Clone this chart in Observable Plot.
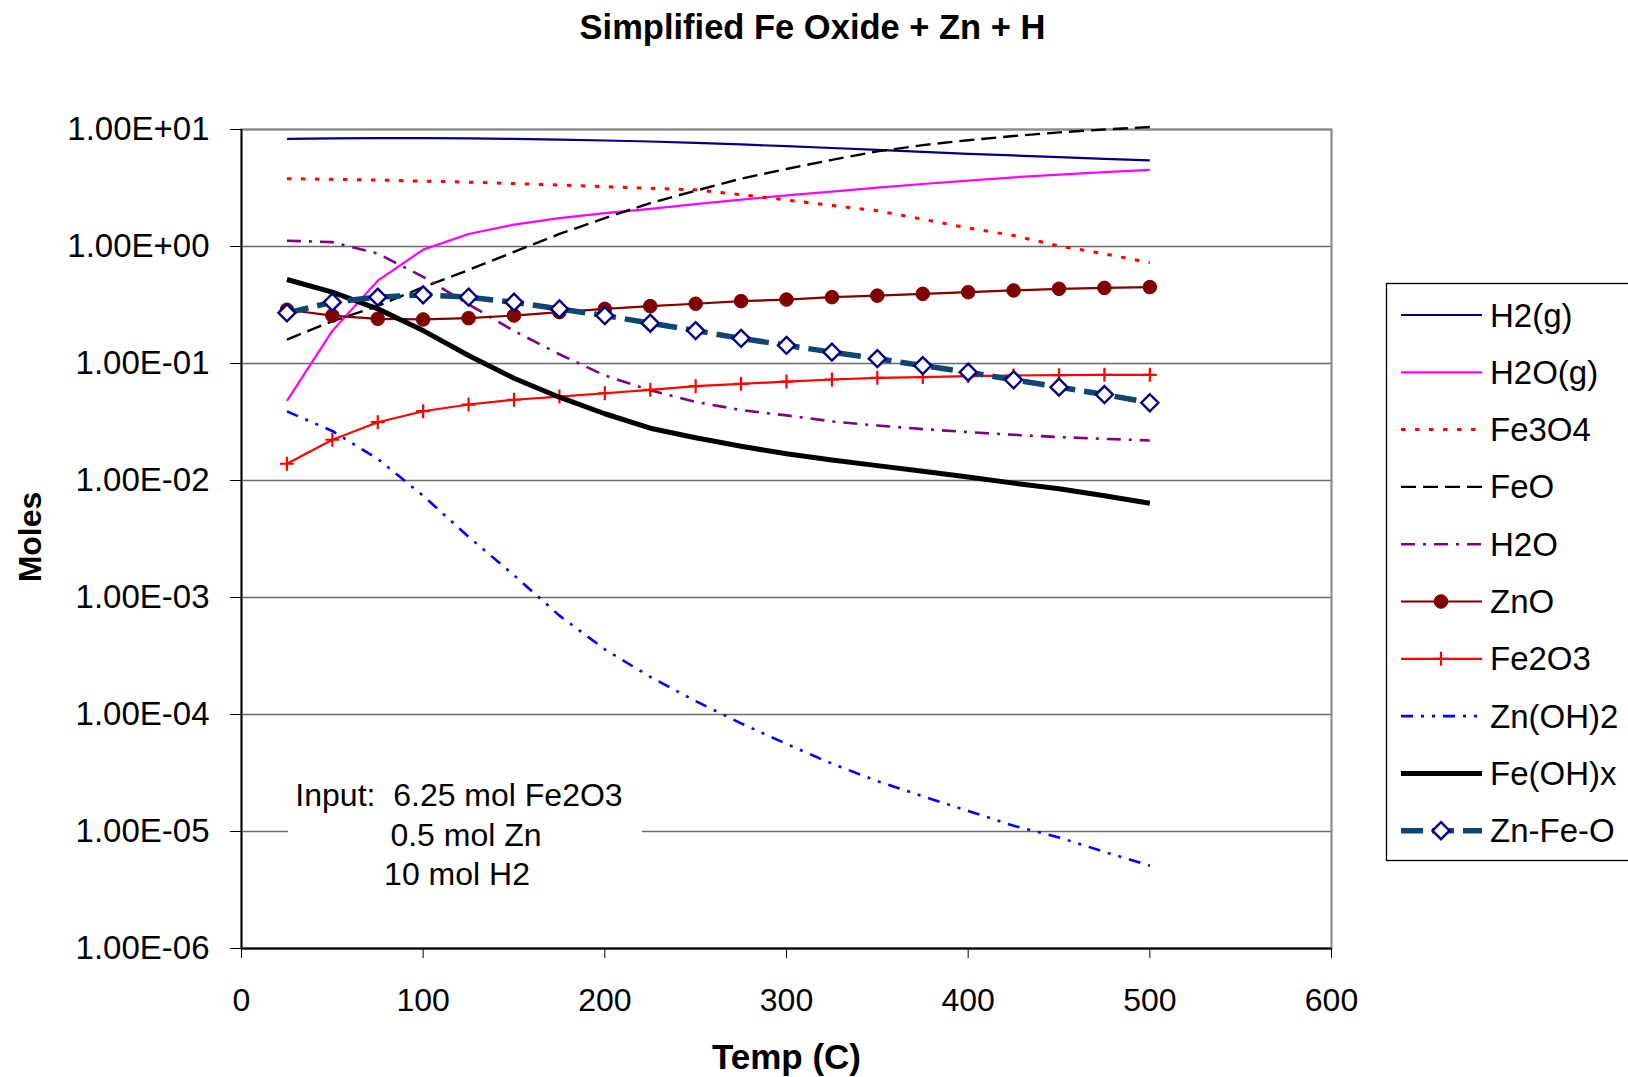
<!DOCTYPE html>
<html>
<head>
<meta charset="utf-8">
<script src="https://cdn.jsdelivr.net/npm/d3@7"></script>
<script src="https://cdn.jsdelivr.net/npm/@observablehq/plot@0.6"></script>
<style>
html, body { margin: 0; padding: 0; background: #fff; }
#wrap { position: relative; width: 1628px; height: 1077px; overflow: hidden; background: #fff;
  font-family: "Liberation Sans", Arial, sans-serif; }
#wrap > svg { position: absolute; left: 0; top: 0; }
#note { position: absolute; left: 288px; top: 776px; width: 354px; height: 122px; background: #fff;
  font-size: 32px; line-height: 39.5px; text-align: center; white-space: pre; color: #000; }
#note div { position: relative; }
</style>
</head>
<body>
<div id="wrap"></div>
<script>
// ---- data ----
const temps = [25, 50, 75, 100, 125, 150, 175, 200, 225, 250, 275, 300, 325, 350, 375, 400, 425, 450, 475, 500];
const h2g    = [8.3, 8.4, 8.45, 8.45, 8.4, 8.3, 8.2, 8.05, 7.9, 7.7, 7.45, 7.2, 6.95, 6.7, 6.45, 6.2, 6.0, 5.8, 5.6, 5.45];
const h2ogas = [0.048, 0.19, 0.51, 0.94, 1.28, 1.54, 1.75, 1.93, 2.1, 2.3, 2.52, 2.73, 2.95, 3.18, 3.42, 3.66, 3.9, 4.12, 4.33, 4.52];
const fe3o4  = [3.8, 3.75, 3.7, 3.62, 3.55, 3.45, 3.35, 3.25, 3.15, 3.05, 2.77, 2.5, 2.24, 2.02, 1.71, 1.44, 1.24, 1.01, 0.865, 0.726];
const feo    = [0.16, 0.23, 0.31, 0.45, 0.63, 0.9, 1.28, 1.75, 2.35, 3.0, 3.8, 4.6, 5.5, 6.5, 7.35, 8.1, 8.8, 9.45, 10.0, 10.5];
const h2o    = [1.12, 1.09, 0.87, 0.55, 0.32, 0.19, 0.12, 0.079, 0.059, 0.047, 0.040, 0.036, 0.032, 0.0295, 0.0275, 0.0259, 0.0246, 0.0235, 0.0227, 0.022];
const zno    = [0.288, 0.257, 0.241, 0.238, 0.244, 0.257, 0.275, 0.293, 0.309, 0.324, 0.341, 0.352, 0.369, 0.38, 0.394, 0.407, 0.421, 0.435, 0.443, 0.45];
const fe2o3  = [0.0139, 0.0223, 0.0315, 0.0391, 0.0446, 0.049, 0.0522, 0.0557, 0.0596, 0.064, 0.067, 0.070, 0.073, 0.0754, 0.0765, 0.078, 0.0789, 0.0795, 0.080, 0.080];
const znoh2  = [0.039, 0.0265, 0.0153, 0.0074, 0.0033, 0.00155, 7.0e-4, 3.6e-4, 2.1e-4, 1.3e-4, 8.4e-5, 5.6e-5, 3.8e-5, 2.7e-5, 2.0e-5, 1.5e-5, 1.12e-5, 8.9e-6, 6.7e-6, 5.1e-6];
const feohx  = [0.522, 0.407, 0.293, 0.191, 0.117, 0.0748, 0.0515, 0.0372, 0.028, 0.0232, 0.0196, 0.0169, 0.0150, 0.0134, 0.012, 0.0107, 0.0095, 0.0085, 0.0074, 0.0064];
const znfeo  = [0.271, 0.334, 0.369, 0.386, 0.369, 0.334, 0.293, 0.257, 0.221, 0.191, 0.164, 0.143, 0.125, 0.110, 0.096, 0.0843, 0.0725, 0.0628, 0.0543, 0.0462];

const seriesNames = ["H2(g)", "H2O(g)", "Fe3O4", "FeO", "H2O", "ZnO", "Fe2O3", "Zn(OH)2", "Fe(OH)x", "Zn-Fe-O"];
const seriesValues = [h2g, h2ogas, fe3o4, feo, h2o, zno, fe2o3, znoh2, feohx, znfeo];

const xTicks = [0, 100, 200, 300, 400, 500, 600];
const yTicks = [1e-6, 1e-5, 1e-4, 1e-3, 1e-2, 1e-1, 1e0, 1e1];
const yTickLabels = ["1.00E-06", "1.00E-05", "1.00E-04", "1.00E-03", "1.00E-02", "1.00E-01", "1.00E+00", "1.00E+01"];

const titleText = "Simplified Fe Oxide + Zn + H";
const xTitle = "Temp (C)";
const yTitle = "Moles";
const noteLines = ["Input:  6.25 mol Fe2O3", "0.5 mol Zn", "10 mol H2"];

// ---- styles ----
const plusSym = { draw(ctx, size) { const r = Math.sqrt(size / Math.PI); ctx.moveTo(-r, 0); ctx.lineTo(r, 0); ctx.moveTo(0, -r); ctx.lineTo(0, r); } };
const diamondSym = { draw(ctx, size) { const r = Math.sqrt(size / Math.PI); ctx.moveTo(0, -r); ctx.lineTo(r, 0); ctx.lineTo(0, r); ctx.lineTo(-r, 0); ctx.closePath(); } };

const styles = {
  "H2(g)":   { stroke: "#000080", width: 2.2, dash: null },
  "H2O(g)":  { stroke: "#ff00ff", width: 2.2, dash: null },
  "Fe3O4":   { stroke: "#ff0000", width: 3, dash: "4.5,9.5" },
  "FeO":     { stroke: "#000000", width: 2.4, dash: "15,7" },
  "H2O":     { stroke: "#800080", width: 2.6, dash: "14,8,3,8" },
  "ZnO":     { stroke: "#800000", width: 2.2, dash: null, marker: { symbol: "circle", r: 6.8, fill: "#800000", stroke: "#800000", sw: 1 } },
  "Fe2O3":   { stroke: "#ff0000", width: 2.2, dash: null, marker: { symbol: plusSym, r: 7, fill: "none", stroke: "#ff0000", sw: 2.2 } },
  "Zn(OH)2": { stroke: "#0000ff", width: 2.6, dash: "12,8,3,8,3,8" },
  "Fe(OH)x": { stroke: "#000000", width: 5, dash: null },
  "Zn-Fe-O": { stroke: "#0d4670", width: 5.5, dash: "22,9", marker: { symbol: diamondSym, r: 8.5, fill: "#ffffff", stroke: "#000080", sw: 2.4 } }
};

const rows = seriesNames.flatMap((name, k) => temps.map((t, i) => ({ series: name, t, v: seriesValues[k][i] })));

const seriesMarks = seriesNames.flatMap(name => {
  const s = styles[name];
  const data = rows.filter(d => d.series === name);
  const m = [Plot.line(data, { x: "t", y: "v", stroke: s.stroke, strokeWidth: s.width,
    strokeDasharray: s.dash || undefined, strokeLinecap: "butt", strokeLinejoin: "round" })];
  if (s.marker) {
    m.push(Plot.dot(data, { x: "t", y: "v", symbol: s.marker.symbol, r: s.marker.r,
      fill: s.marker.fill, stroke: s.marker.stroke, strokeWidth: s.marker.sw }));
  }
  return m;
});

const chart = Plot.plot({
  width: 1628,
  height: 1077,
  marginLeft: 241,
  marginRight: 297,
  marginTop: 129,
  marginBottom: 129,
  style: { fontFamily: '"Liberation Sans", Arial, sans-serif', fontSize: "33px", color: "#000", background: "#fff", overflow: "visible" },
  x: { domain: [0, 600], label: null },
  y: { type: "log", domain: [1e-6, 10], label: null },
  marks: [
    Plot.gridY({ ticks: yTicks, stroke: "#6a6a6a", strokeOpacity: 1, strokeWidth: 1.3 }),
    Plot.frame({ stroke: "#8c8c8c", strokeWidth: 2.2 }),
    Plot.ruleX([0], { stroke: "#000", strokeWidth: 1.8 }),
    Plot.ruleY([1e-6], { stroke: "#000", strokeWidth: 1.8 }),
    Plot.axisY({ ticks: yTicks, tickFormat: d => yTickLabels[yTicks.indexOf(d)], tickSize: 11, tickPadding: 21, label: null, stroke: "#000" }),
    Plot.axisX({ ticks: xTicks, tickFormat: d => String(d), tickSize: 10, tickPadding: 30, label: null, stroke: "#000", fontSize: 32 }),
    ...seriesMarks,
    Plot.text([titleText], { frameAnchor: "top", dx: 26, dy: -102, fontWeight: "bold", fontSize: 34.5, lineAnchor: "middle" }),
    Plot.text([xTitle], { frameAnchor: "bottom", dy: 109, fontWeight: "bold", fontSize: 35, lineAnchor: "middle" }),
    Plot.text([yTitle], { frameAnchor: "left", dx: -211, dy: -2, rotate: -90, textAnchor: "middle", fontWeight: "bold", fontSize: 32, lineAnchor: "middle" })
  ]
});

const wrap = document.getElementById("wrap");
wrap.appendChild(chart);

// annotation box (white text box over the gridline)
const note = document.createElement("div");
note.id = "note";
const noteOffsets = [-6, 1, -8];
noteLines.forEach((line, i) => {
  const d = document.createElement("div");
  d.textContent = line;
  d.style.left = noteOffsets[i] + "px";
  note.appendChild(d);
});
wrap.appendChild(note);

// legend
const lg = d3.create("svg").attr("width", 1628).attr("height", 1077)
  .style("position", "absolute").style("left", "0px").style("top", "0px")
  .style("font-family", '"Liberation Sans", Arial, sans-serif');
lg.append("rect").attr("x", 1386.5).attr("y", 283.5).attr("width", 320).attr("height", 577)
  .attr("fill", "#fff").attr("stroke", "#000").attr("stroke-width", 1.3);
seriesNames.forEach((name, i) => {
  const s = styles[name];
  const y = 315 + 57.3 * i;
  const g = lg.append("g");
  g.append("line").attr("x1", 1401).attr("x2", 1482).attr("y1", y).attr("y2", y)
    .attr("stroke", s.stroke).attr("stroke-width", s.width)
    .attr("stroke-dasharray", s.dash || null);
  if (s.marker) {
    const size = Math.PI * s.marker.r * s.marker.r;
    const sym = s.marker.symbol === "circle" ? d3.symbolCircle : s.marker.symbol;
    g.append("path").attr("transform", `translate(1441,${y})`)
      .attr("d", d3.symbol(sym, size)())
      .attr("fill", s.marker.fill).attr("stroke", s.marker.stroke).attr("stroke-width", s.marker.sw);
  }
  g.append("text").attr("x", 1490).attr("y", y).attr("dy", "0.35em")
    .attr("font-size", 33).attr("fill", "#000").text(name);
});
wrap.appendChild(lg.node());
</script>
</body>
</html>
